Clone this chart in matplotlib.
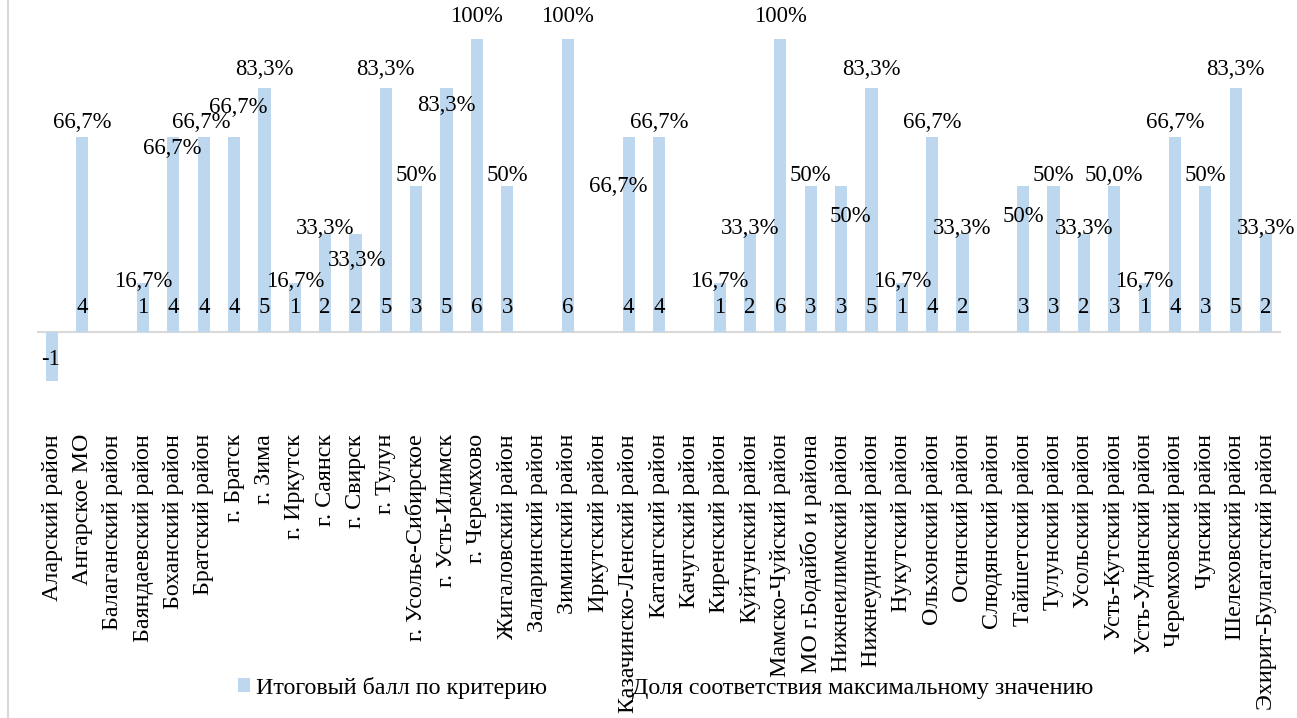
import matplotlib
matplotlib.use("Agg")
import matplotlib.pyplot as plt
from matplotlib.lines import Line2D
import numpy as np

plt.rcParams['font.family'] = ['Liberation Serif', 'DejaVu Serif']

districts = [
    "Аларский район", "Ангарское МО", "Балаганский район", "Баяндаевский район",
    "Боханский район", "Братский район", "г. Братск", "г. Зима", "г. Иркутск",
    "г. Саянск", "г. Свирск", "г. Тулун", "г. Усолье-Сибирское", "г. Усть-Илимск",
    "г. Черемхово", "Жигаловский район", "Заларинский район", "Зиминский район",
    "Иркутский район", "Казачинско-Ленский район", "Катангский район",
    "Качугский район", "Киренский район", "Куйтунский район",
    "Мамско-Чуйский район", "МО г.Бодайбо и района", "Нижнеилимский район",
    "Нижнеудинский район", "Нукутский район", "Ольхонский район", "Осинский район",
    "Слюдянский район", "Тайшетский район", "Тулунский район", "Усольский район",
    "Усть-Кутский район", "Усть-Удинский район", "Черемховский район",
    "Чунский район", "Шелеховский район", "Эхирит-Булагатский район",
]

# итоговый балл (None - нет значения)
scores = [-1, 4, None, 1, 4, 4, 4, 5, 1, 2, 2, 5, 3, 5, 6, 3, None, 6, None, 4, 4,
          None, 1, 2, 6, 3, 3, 5, 1, 4, 2, None, 3, 3, 2, 3, 1, 4, 3, 5, 2]

# доля соответствия максимальному значению, %
shares = [None, 66.7, None, 16.7, 66.7, 66.7, 66.7, 83.3, 16.7, 33.3, 33.3, 83.3,
          50, 83.3, 100, 50, None, 100, None, 66.7, 66.7, None, 16.7, 33.3, 100,
          50, 50, 83.3, 16.7, 66.7, 33.3, None, 50, 50, 33.3, 50, 16.7, 66.7, 50,
          83.3, 33.3]
share_labels = [None, "66,7%", None, "16,7%", "66,7%", "66,7%", "66,7%", "83,3%",
                "16,7%", "33,3%", "33,3%", "83,3%", "50%", "83,3%", "100%", "50%",
                None, "100%", None, "66,7%", "66,7%", None, "16,7%", "33,3%", "100%",
                "50%", "50%", "83,3%", "16,7%", "66,7%", "33,3%", None, "50%", "50%",
                "33,3%", "50,0%", "16,7%", "66,7%", "50%", "83,3%", "33,3%"]

# labels moved by hand in the original (pixels, dx, dy up)
moved = {4: (-1, -26), 5: (-3, 0), 6: (4, 15), 10: (2, -32), 13: (0, -36),
         19: (-10, -64), 26: (9, -41), 32: (0, -41)}

bar_color = "#BDD7EE"
grid_gray = "#D9D9D9"
fs_data = 16.4
fs_text = 17.3
px = 0.72  # points per pixel at dpi 100

fig = plt.figure(figsize=(12.97, 7.18), dpi=100)
ax = fig.add_axes([0.0284, 0.436, 0.9594, 0.5634])
ax2 = ax.twinx()

x = np.arange(len(districts))
h = np.array([np.nan if s is None else s for s in scores], dtype=float)
sh = np.array([np.nan if s is None else s for s in shares], dtype=float)

ax.bar(x, h, width=0.4, color=bar_color, zorder=2, label="Итоговый балл по критерию")
ax2.bar(x, sh, width=0.4, facecolor="none", edgecolor="none",
        label="Доля соответствия максимальному значению")
ax.axhline(0, color=grid_gray, lw=1.5, zorder=1)

for i, s in enumerate(scores):
    if s is None:
        continue
    off = 17.3 if s > 0 else -20
    ax.annotate(str(s), (i, 0), xytext=(-1 if s < 0 else 0, off),
                textcoords="offset points", ha="center", va="center",
                fontsize=fs_data, zorder=3)

for i, (v, lab) in enumerate(zip(shares, share_labels)):
    if v is None:
        continue
    dx, dy = moved.get(i, (0, 0))
    ax2.annotate(lab, (i, v), xytext=(dx * px, dy * px), textcoords="offset points",
                 ha="center", va="center", fontsize=fs_data, zorder=3)

ax.set_xlim(-0.5, len(districts) - 0.5)
ax.set_ylim(-1.5, 6.8)
ax2.set_ylim(-21.9, 104.9)

ax.set_xticks(x)
ax.set_xticklabels(districts, rotation=90, fontsize=fs_text)
ax.tick_params(axis="x", length=0, pad=21)
ax.set_yticks([])
ax2.set_yticks([])
for a in (ax, ax2):
    for sp in a.spines.values():
        sp.set_visible(False)

fig.add_artist(Line2D([8 / 1297, 8 / 1297], [0, 1], color=grid_gray, lw=1.5))

h1, l1 = ax.get_legend_handles_labels()
h2, l2 = ax2.get_legend_handles_labels()
fig.legend(h1 + h2, l1 + l2, loc="center left", ncol=2, frameon=False,
           fontsize=fs_text, bbox_to_anchor=(238 / 1297, 1 - 688 / 718),
           borderpad=0, borderaxespad=0, handlelength=0.52, handleheight=0.52,
           handletextpad=0.22, columnspacing=2.8)

fig.savefig("out.png", dpi=100)
